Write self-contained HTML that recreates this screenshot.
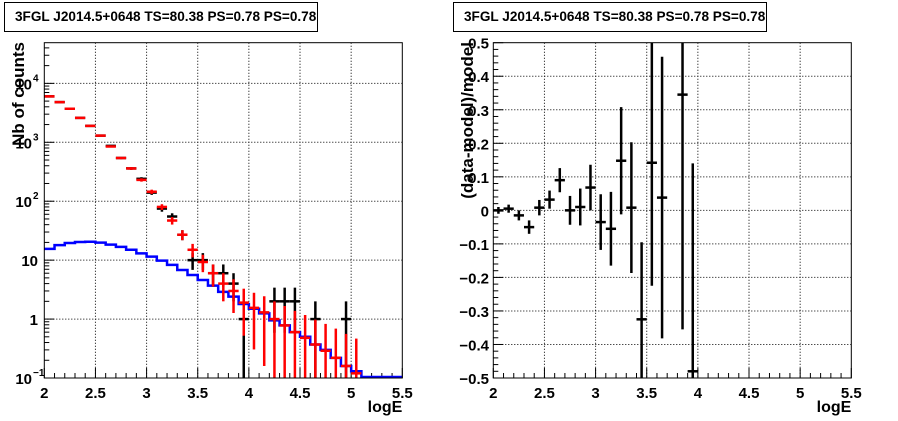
<!DOCTYPE html>
<html><head><meta charset="utf-8"><style>
html,body{margin:0;padding:0;background:#fff;width:898px;height:421px;overflow:hidden;}
svg{display:block;font-family:"Liberation Sans",Arial,sans-serif;font-weight:bold;}
</style></head><body>
<svg id="c" width="898" height="421" viewBox="0 0 898 421"></svg>
<script>
const binCenters=[2.05,2.15,2.25,2.35,2.45,2.55,2.65,2.75,2.85,2.95,3.05,3.15,3.25,3.35,3.45,3.55,3.65,3.75,3.85,3.95,4.05,4.15,4.25,4.35,4.45,4.55,4.65,4.75,4.85,4.95,5.05];
const dataCounts=[6000,4800,3700,2600,1900,1300,870,540,360,240,140,75,55,27,10,10,6,6,4,1,0,0,2,2,2,0,1,0,0,1,0];
const modelCounts=[6000,4800,3700,2600,1900,1300,850,540,360,230,145,80,47,27,15,9.3,6,4,3,1.9,1.55,1.3,1.0,0.78,0.6,0.48,0.37,0.29,0.22,0.16,0.12];
const blueEdges=[2.0,2.1,2.2,2.3,2.4,2.5,2.6,2.7,2.8,2.9,3.0,3.1,3.2,3.3,3.4,3.5,3.6,3.7,3.8,3.9,4.0,4.1,4.2,4.3,4.4,4.5,4.6,4.7,4.8,4.9,5.0,5.1,5.5];
const blueValues=[15.5,18,19.5,20.3,20.5,19.8,18.3,16.8,15,13,11.5,9.8,8.3,6.8,5.6,4.6,3.7,2.9,2.4,1.8,1.5,1.25,0.95,0.78,0.6,0.5,0.37,0.3,0.22,0.16,0.13,0.1];
const resCenters=[2.05,2.15,2.25,2.35,2.45,2.55,2.65,2.75,2.85,2.95,3.05,3.15,3.25,3.35,3.45,3.55,3.65,3.85,3.95];
const resValues=[0,0.005,-0.015,-0.05,0.008,0.032,0.09,0.0,0.01,0.068,-0.035,-0.055,0.148,0.008,-0.325,0.142,0.038,0.345,-0.48];
const resErrors=[0.01,0.012,0.015,0.02,0.023,0.027,0.036,0.043,0.055,0.068,0.083,0.11,0.16,0.195,0.23,0.367,0.42,0.7,0.62];
const xTicks=[2,2.5,3,3.5,4,4.5,5,5.5];
const xTickLabels=["2","2.5","3","3.5","4","4.5","5","5.5"];
const resTicks=[-0.5,-0.4,-0.3,-0.2,-0.1,0,0.1,0.2,0.3,0.4,0.5];
const resTickLabels=["\u22120.5","\u22120.4","\u22120.3","\u22120.2","\u22120.1","0","0.1","0.2","0.3","0.4","0.5"];
const logTicks=[0.1,1,10,100,1000,10000];
const title="3FGL J2014.5+0648 TS=80.38 PS=0.78 PS=0.78";

const NS="http://www.w3.org/2000/svg";
const svg=document.getElementById('c');
function mk(tag,attrs,parent,name){const e=document.createElementNS(NS,tag);for(const k in attrs)e.setAttribute(k,attrs[k]);


(parent||svg).appendChild(e);return e;}
function line(x1,y1,x2,y2,st,w,p,name,dash){const a={x1,y1,x2,y2,stroke:st,'stroke-width':w};if(dash)a['stroke-dasharray']=dash;return mk('line',a,p,name);}
function text(x,y,s,size,anchor,p,name,extra){const t=mk('text',Object.assign({x,y,'font-size':size,'text-anchor':anchor||'start'},extra||{}),p,name);t.textContent=s;return t;}

const L=44.3,R=402.3,T=42.7,B=378;
function panel(off,name){
  const g=mk('g',{transform:'translate('+off+',0)'},svg,name);
  const X=v=>L+(v-2)/3.5*(R-L);
  return {g,X};
}
function titleBox(off,name){
  mk('rect',{x:off+4.5,y:2.5,width:313,height:29,fill:'#fff',stroke:'#000','stroke-width':1},svg,name+'-box');
  text(off+15,21,title,13.6,'start',svg,name);
}
function xAxis(p,name){
  const {g,X}=p;
  for(let v=2;v<=5.5001;v+=0.1){const big=Math.abs(v*2-Math.round(v*2))<1e-6;line(X(v),B,X(v),B-(big?10:5),'#000',1,g,'x-tick');}
  xTicks.forEach((v,i)=>{if(i>0&&i<xTicks.length-1)line(X(v),T,X(v),B,'#000',1,g,'x-grid','1,2');
    text(X(v),398,xTickLabels[i],15,'middle',g,'x-tick-label');});
  text(R,412,'logE',16,'end',g,name);
}

// LEFT
titleBox(0,'left-title');
const pl=panel(0,'left-panel');
const lmin=-1,lmax=4.69;
const Yl=v=>B-(Math.log10(v)-lmin)/(lmax-lmin)*(B-T);
logTicks.forEach((v,i)=>{if(i>0)line(L,Yl(v),R,Yl(v),'#000',1,pl.g,'y-grid','1,2');
  for(let m=1;m<10;m++){const vv=v*m;if(Math.log10(vv)>lmax)break;line(L,Yl(vv),L+(m==1?10:5),Yl(vv),'#000',1,pl.g,'y-tick');}});
const yl=[["10",-1],["1",null],["10",null],["10",2],["10",3],["10",4]];
logTicks.forEach((v,i)=>{const t=yl[i];
  if(t[1]===null){text(38,Yl(v)+6,t[0],15,'end',pl.g,'y-tick-label');}
  else{text(32,Yl(v)+6,t[0],15,'end',pl.g,'y-tick-label');
    text(33,Yl(v)-2,t[1]<0?'\u22121':String(t[1]),10,'start',pl.g,'y-tick-exponent');}
});
text(0,0,'Nb of counts',17,'end',pl.g,'y-axis-title',{transform:'translate(24,42) rotate(-90)'});
xAxis(pl,'x-axis-title');
const clipL=mk('clipPath',{id:'cl'},svg,'clip');mk('rect',{x:L,y:T,width:R-L,height:B-T},clipL,'clip-rect');
const gd=mk('g',{'clip-path':'url(#cl)'},pl.g,'left-series');
let d='';blueValues.forEach((v,i)=>{const y=Math.min(Yl(v),B-1);d+=(i==0?'M':'L')+pl.X(blueEdges[i])+','+y+'L'+pl.X(blueEdges[i+1])+','+y;});
mk('path',{d,fill:'none',stroke:'#0000ff','stroke-width':2.5},gd,'model-histogram');
binCenters.forEach((c,i)=>{const n=dataCounts[i];if(n<=0)return;const e=Math.sqrt(n);
  const x=pl.X(c),y=Yl(n);line(pl.X(c-0.05),y,pl.X(c+0.05),y,'#000',2.5,gd,'data-point');
  const lo=n-e>0?Yl(n-e):B+5;line(x,Yl(n+e),x,lo,'#000',2.5,gd,'data-error-bar');});
binCenters.forEach((c,i)=>{const n=modelCounts[i];const e=Math.sqrt(n);
  const x=pl.X(c),y=Yl(n);line(pl.X(c-0.05),y,pl.X(c+0.05),y,'#ff0000',2.5,gd,'model-point');
  const lo=n-e>0?Yl(n-e):B+5;line(x,Yl(n+e),x,lo,'#ff0000',2.5,gd,'model-error-bar');});
mk('rect',{x:L,y:T,width:R-L,height:B-T,fill:'none',stroke:'#000','stroke-width':1},pl.g,'left-frame');

// RIGHT
const off=449;
titleBox(off,'right-title');
const pr=panel(off,'right-panel');
const Yr=v=>B-(v+0.5)/1.0*(B-T);
resTicks.forEach((v,i)=>{if(i>0&&i<resTicks.length-1)line(L,Yr(v),R,Yr(v),'#000',1,pr.g,'y-grid','1,2');
  text(40,Yr(v)+6,resTickLabels[i],15,'end',pr.g,'y-tick-label');});
for(let v=-0.5;v<=0.5001;v+=0.02){const big=Math.abs(v*10-Math.round(v*10))<1e-6;line(L,Yr(v),L+(big?10:5),Yr(v),'#000',1,pr.g,'y-tick');}
text(0,0,'(data-model)/model',17,'end',pr.g,'y-axis-title',{transform:'translate(24,42) rotate(-90)'});
xAxis(pr,'x-axis-title');
const clipR=mk('clipPath',{id:'cr'},svg,'clip');mk('rect',{x:L,y:T,width:R-L,height:B-T},clipR,'clip-rect');
const gr=mk('g',{'clip-path':'url(#cr)'},pr.g,'residual-series');
resCenters.forEach((c,i)=>{const v=resValues[i],e=resErrors[i];const x=pr.X(c);
  line(pr.X(c-0.05),Yr(v),pr.X(c+0.05),Yr(v),'#000',2.5,gr,'residual-point');
  line(x,Yr(v+e),x,Yr(v-e),'#000',2.5,gr,'residual-error-bar');});
mk('rect',{x:L,y:T,width:R-L,height:B-T,fill:'none',stroke:'#000','stroke-width':1},pr.g,'right-frame');
</script>
</body></html>
